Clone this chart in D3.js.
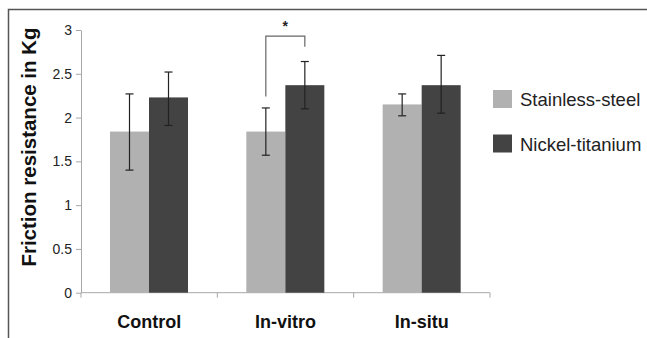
<!DOCTYPE html>
<html>
<head>
<meta charset="utf-8">
<script src="https://cdn.jsdelivr.net/npm/d3@7"></script>
<style>
  body { margin: 0; background: #fff; }
  svg { display: block; font-family: Arial, "Liberation Sans", sans-serif; }
</style>
</head>
<body>
<svg id="chart" width="647" height="338"></svg>
<script>
const categories = ["Control", "In-vitro", "In-situ"];
const seriesNames = ["Stainless-steel", "Nickel-titanium"];
const stainless = [1.84, 1.84, 2.15];
const nickel = [2.23, 2.37, 2.37];
const stainlessErr = [[1.40, 2.27], [1.57, 2.11], [2.02, 2.27]];
const nickelErr = [[1.91, 2.52], [2.10, 2.64], [2.05, 2.71]];
const yTicks = [0, 0.5, 1, 1.5, 2, 2.5, 3];
const colors = ["#b1b1b1", "#434343"];

const svg = d3.select("#chart");

// frame round the figure
svg.append("path")
  .attr("d", "M8.5,338 V9.5 H647")
  .attr("fill", "none")
  .attr("stroke", "#555")
  .attr("stroke-width", 1.5);

const x = d3.scaleBand().domain(categories).range([81, 490]);
const x1 = d3.scaleBand().domain(seriesNames).range([29, 107]);
const y = d3.scaleLinear().domain([0, 3]).range([292.7, 30]);

// y axis
const yAxis = svg.append("g")
  .attr("transform", "translate(81,0)")
  .call(d3.axisLeft(y).tickValues(yTicks).tickFormat(d => d).tickSize(5).tickSizeOuter(0));
yAxis.select(".domain").attr("stroke", "#a8a8a8");
yAxis.selectAll(".tick line").attr("stroke", "#a8a8a8");
yAxis.selectAll(".tick text").attr("font-size", 14).attr("fill", "#222").attr("x", -9);

// x axis
const xAxis = svg.append("g")
  .attr("transform", "translate(0,292.7)");
xAxis.append("line")
  .attr("x1", x.range()[0]).attr("x2", x.range()[1])
  .attr("stroke", "#a8a8a8");
xAxis.selectAll("line.tk")
  .data(categories.map(c => x(c)).concat([x.range()[1]]))
  .enter().append("line")
  .attr("class", "tk")
  .attr("x1", d => d).attr("x2", d => d)
  .attr("y1", 0).attr("y2", 5)
  .attr("stroke", "#a8a8a8");
xAxis.selectAll("text")
  .data(categories)
  .enter().append("text")
  .attr("x", d => x(d) + x.bandwidth() / 2)
  .attr("y", 35)
  .attr("text-anchor", "middle")
  .attr("font-size", 18)
  .attr("font-weight", "bold")
  .attr("fill", "#111")
  .text(d => d);

// bars
const rows = [];
categories.forEach((c, i) => {
  rows.push({ cat: c, s: seriesNames[0], v: stainless[i], err: stainlessErr[i], col: colors[0] });
  rows.push({ cat: c, s: seriesNames[1], v: nickel[i], err: nickelErr[i], col: colors[1] });
});

svg.selectAll("rect.bar")
  .data(rows)
  .enter().append("rect")
  .attr("class", "bar")
  .attr("x", d => x(d.cat) + x1(d.s))
  .attr("width", x1.bandwidth())
  .attr("y", d => y(d.v))
  .attr("height", d => y(0) - y(d.v))
  .attr("fill", d => d.col);

// error bars
const eb = svg.selectAll("g.err")
  .data(rows)
  .enter().append("g")
  .attr("class", "err")
  .attr("stroke", "#222")
  .attr("stroke-width", 1.2);
const cx = d => x(d.cat) + x1(d.s) + x1.bandwidth() / 2;
eb.append("line")
  .attr("x1", cx).attr("x2", cx)
  .attr("y1", d => y(d.err[0])).attr("y2", d => y(d.err[1]));
eb.append("line")
  .attr("x1", d => cx(d) - 4).attr("x2", d => cx(d) + 4)
  .attr("y1", d => y(d.err[0])).attr("y2", d => y(d.err[0]));
eb.append("line")
  .attr("x1", d => cx(d) - 4).attr("x2", d => cx(d) + 4)
  .attr("y1", d => y(d.err[1])).attr("y2", d => y(d.err[1]));

// significance bracket for In-vitro
const bl = x("In-vitro") + x1(seriesNames[0]) + x1.bandwidth() / 2;
const br = x("In-vitro") + x1(seriesNames[1]) + x1.bandwidth() / 2;
const bTop = y(2.93);
svg.append("path")
  .attr("d", `M${bl},${y(2.24)} V${bTop} H${br} V${y(2.81)}`)
  .attr("fill", "none")
  .attr("stroke", "#666")
  .attr("stroke-width", 1.2);
svg.append("text")
  .attr("x", (bl + br) / 2)
  .attr("y", bTop - 5)
  .attr("text-anchor", "middle")
  .attr("font-size", 14)
  .attr("font-weight", "bold")
  .attr("fill", "#222")
  .text("*");

// y axis title
svg.append("text")
  .attr("transform", "translate(36,147) rotate(-90)")
  .attr("text-anchor", "middle")
  .attr("font-size", 20.5)
  .attr("font-weight", "bold")
  .attr("fill", "#111")
  .text("Friction resistance in Kg");

// legend
const lg = svg.selectAll("g.legend")
  .data(seriesNames)
  .enter().append("g")
  .attr("class", "legend")
  .attr("transform", (d, i) => `translate(493,${90 + i * 44.5})`);
lg.append("rect")
  .attr("width", 19).attr("height", 18)
  .attr("fill", (d, i) => colors[i]);
lg.append("text")
  .attr("x", 27).attr("y", 16)
  .attr("font-size", 18.5)
  .attr("fill", "#222")
  .text(d => d);
</script>
</body>
</html>
